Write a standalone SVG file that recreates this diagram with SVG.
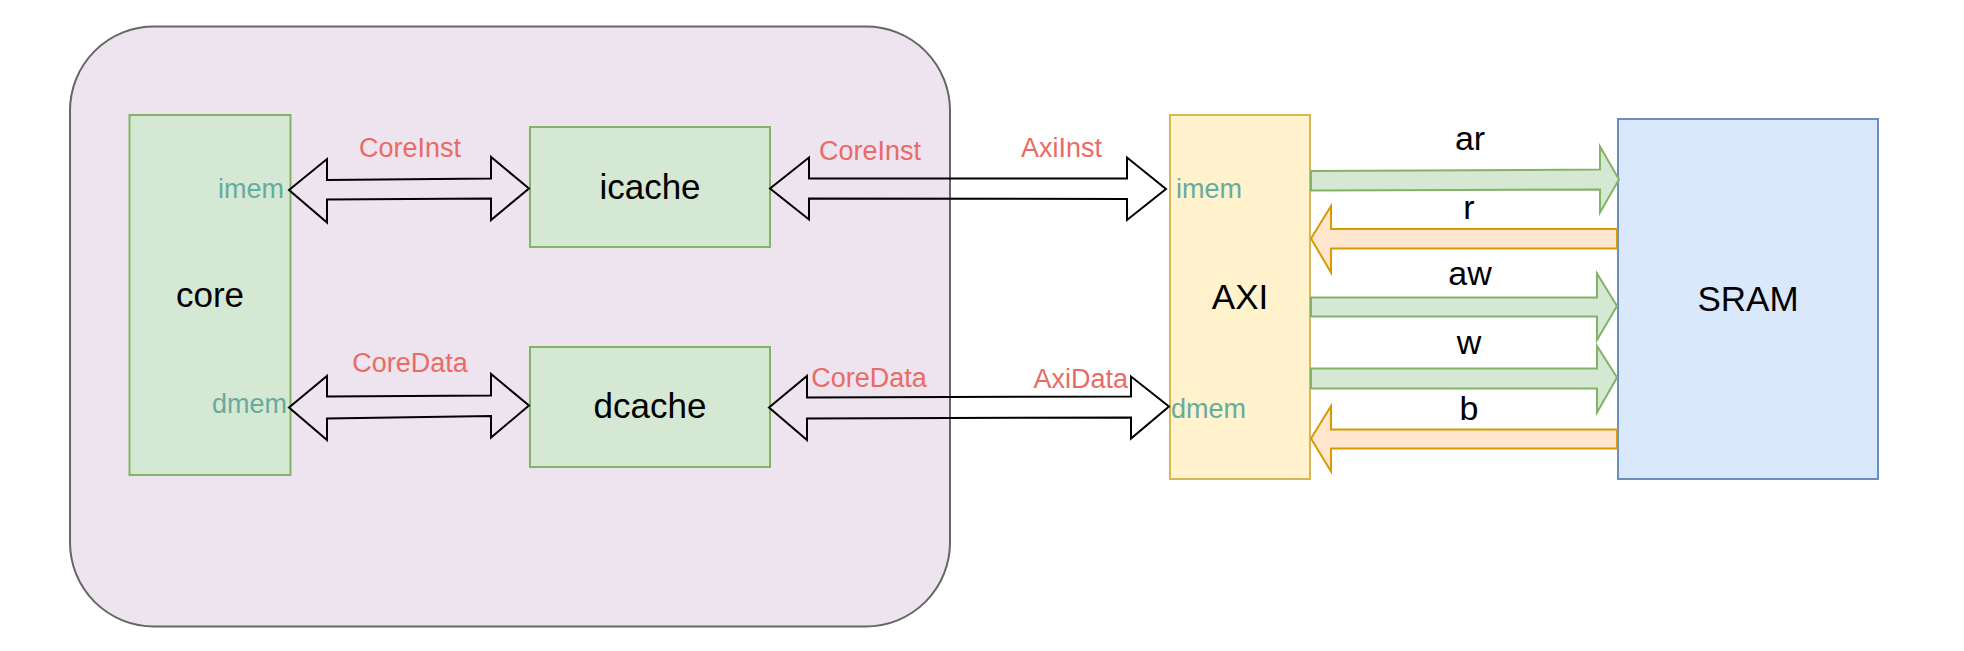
<svg xmlns="http://www.w3.org/2000/svg" width="1964" height="651" viewBox="0 0 1964 651">
<style>
text{font-family:"Liberation Sans",Arial,sans-serif}
.big{font-size:35px;fill:#000}
.sig{font-size:27px;fill:#EA6B66}
.port{font-size:27px;fill:#67AB9F}
.ch{font-size:34px;fill:#000}
.green{fill:#d5e8d4;stroke:#82b366;stroke-width:2}
.bus{fill:#ffffff;fill-opacity:0;stroke:#000;stroke-width:2;stroke-linejoin:miter}
.gar{fill:#d5e8d4;stroke:#82b366;stroke-width:2}
.oar{fill:#ffe6cc;stroke:#d79b00;stroke-width:2}
</style>
<rect width="1964" height="651" fill="#ffffff"/>
<g id="container">
<rect x="70" y="26.5" width="880" height="600" rx="84" ry="84" fill="#ede4ef" stroke="#666666" stroke-width="2"/>
</g>
<g id="core">
<rect class="green" x="129.5" y="115" width="161" height="360"/>
<text class="big" x="210" y="307" text-anchor="middle">core</text>
<text class="port" x="284" y="198" text-anchor="end">imem</text>
<text class="port" x="287" y="413" text-anchor="end">dmem</text>
</g>
<g id="icache">
<rect class="green" x="530" y="127" width="240" height="120"/>
<text class="big" x="650" y="199" text-anchor="middle">icache</text>
</g>
<g id="dcache">
<rect class="green" x="530" y="347" width="240" height="120"/>
<text class="big" x="650" y="418" text-anchor="middle">dcache</text>
</g>
<g id="axi">
<rect x="1170" y="115" width="140" height="364" fill="#fff2cc" stroke="#d6b656" stroke-width="2"/>
<text class="big" x="1240" y="309" text-anchor="middle">AXI</text>
<text class="port" x="1176" y="198">imem</text>
<text class="port" x="1171" y="418">dmem</text>
</g>
<g id="sram">
<rect x="1618" y="119" width="260" height="360" fill="#dae8fc" stroke="#6c8ebf" stroke-width="2"/>
<text class="big" x="1748" y="311" text-anchor="middle">SRAM</text>
</g>
<g id="connectors">
<path class="bus" d="M289,190 L327,159 L327,180 L491,178.5 L491,157 L529,188.5 L491,220 L491,198.5 L327,199.5 L327,222.5 Z"/>
<path class="bus" d="M770,188.5 L809,157.5 L809,178.5 L1127,178.5 L1127,157.5 L1166,189 L1127,220 L1127,199 L809,198.5 L809,219.5 Z"/>
<path class="bus" d="M289,407.5 L327,376 L327,396.5 L491,395.5 L491,374 L529,405.5 L491,437.5 L491,416 L327,418.5 L327,440 Z"/>
<path class="bus" d="M769,407.5 L807,376 L807,397.5 L1131,396.5 L1131,376.5 L1169,406.5 L1131,438.5 L1131,417.5 L807,418.5 L807,440 Z"/>
<path class="gar" d="M1311,171 L1600,169.5 L1600,146.5 L1619,179.5 L1600,212.5 L1600,189.5 L1311,190.5 Z"/>
<path class="oar" d="M1311,238.5 L1331,206 L1331,229 L1617,229 L1617,248.5 L1331,248.5 L1331,272.5 Z"/>
<path class="gar" d="M1311,297.5 L1597,297.5 L1597,273.5 L1617,306 L1597,340 L1597,316.5 L1311,316.5 Z"/>
<path class="gar" d="M1311,368.5 L1597,368.5 L1597,346 L1617,377.5 L1597,412.5 L1597,388.5 L1311,388.5 Z"/>
<path class="oar" d="M1311,438.5 L1331,406 L1331,429.5 L1617,429.5 L1617,448.5 L1331,448.5 L1331,471.5 Z"/>
<text class="sig" x="410" y="157" text-anchor="middle">CoreInst</text>
<text class="sig" x="410" y="372" text-anchor="middle">CoreData</text>
<text class="sig" x="870" y="160" text-anchor="middle">CoreInst</text>
<text class="sig" x="869" y="387" text-anchor="middle">CoreData</text>
<text class="sig" x="1102" y="157" text-anchor="end">AxiInst</text>
<text class="sig" x="1128" y="388" text-anchor="end">AxiData</text>
<text class="ch" x="1470" y="150" text-anchor="middle">ar</text>
<text class="ch" x="1469" y="219" text-anchor="middle">r</text>
<text class="ch" x="1470" y="285" text-anchor="middle">aw</text>
<text class="ch" x="1469" y="354" text-anchor="middle">w</text>
<text class="ch" x="1469" y="420" text-anchor="middle">b</text>
</g>
</svg>
